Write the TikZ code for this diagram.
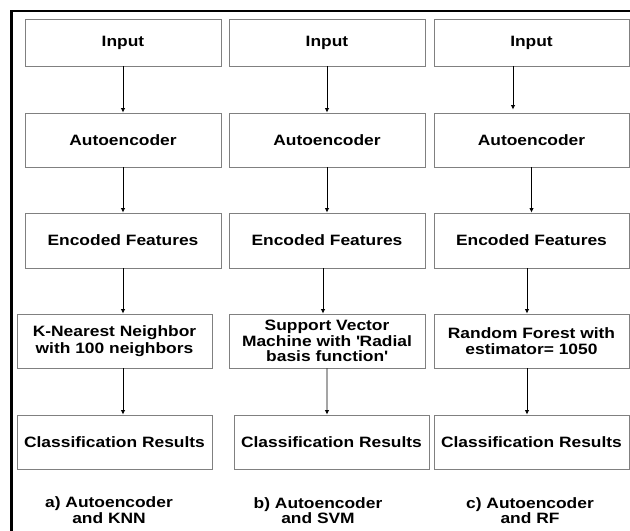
\documentclass[tikz,border=0pt]{standalone}
\usepackage{fontspec}
\setmainfont{Liberation Sans}[FakeStretch=1.16]
\usetikzlibrary{arrows.meta}
\begin{document}
\begin{tikzpicture}[x=1bp,y=-1bp,
  box/.style={draw=black!50,line width=0.9bp,inner sep=0pt,align=center,
    font=\fontsize{15bp}{16.5bp}\selectfont\bfseries},
  arr/.style={-{Latex[length=4.5bp,width=4.5bp]},line width=0.8bp,black},
  capt/.style={align=center,inner sep=0pt,font=\fontsize{15bp}{15.5bp}\selectfont\bfseries}]
\useasboundingbox (0,0) rectangle (630,531);
\draw[line width=2.6bp] (11.5,531) -- (11.5,11) -- (630,11);
% column a
\node[box,minimum width=196bp,minimum height=47bp] (a1) at (123,42.5) {Input};
\node[box,minimum width=196bp,minimum height=54bp] (a2) at (123,140) {Autoencoder};
\node[box,minimum width=196bp,minimum height=55bp] (a3) at (123,240.5) {Encoded Features};
\node[box,minimum width=195bp,minimum height=54bp] (a4) at (114.5,341) {K-Nearest Neighbor\\with 100 neighbors};
\node[box,minimum width=195bp,minimum height=54bp] (a5) at (114.5,442) {Classification Results};
% column b
\node[box,minimum width=196bp,minimum height=47bp] (b1) at (327,42.5) {Input};
\node[box,minimum width=196bp,minimum height=54bp] (b2) at (327,140) {Autoencoder};
\node[box,minimum width=196bp,minimum height=55bp] (b3) at (327,240.5) {Encoded Features};
\node[box,minimum width=196bp,minimum height=54bp,font=\fontsize{15bp}{15.5bp}\selectfont\bfseries] (b4) at (327,341) {Support Vector\\Machine with \textquotesingle Radial\\basis function\textquotesingle};
\node[box,minimum width=195bp,minimum height=54bp] (b5) at (331.5,442) {Classification Results};
% column c
\node[box,minimum width=195bp,minimum height=47bp] (c1) at (531.5,42.5) {Input};
\node[box,minimum width=195bp,minimum height=54bp] (c2) at (531.5,140) {Autoencoder};
\node[box,minimum width=195bp,minimum height=55bp] (c3) at (531.5,240.5) {Encoded Features};
\node[box,minimum width=195bp,minimum height=54bp] (c4) at (531.5,341) {Random Forest with\\estimator= 1050};
\node[box,minimum width=195bp,minimum height=54bp] (c5) at (531.5,442) {Classification Results};
% arrows a
\draw[arr] (a1.south) -- (a2.north);
\draw[arr] (a2.south) -- (a3.north);
\draw[arr] ([xshift=8.5bp]a4.north |- a3.south) -- ([xshift=8.5bp]a4.north);
\draw[arr] ([xshift=8.5bp]a4.south) -- ([xshift=8.5bp]a5.north);
% arrows b
\draw[arr] (b1.south) -- (b2.north);
\draw[arr] (b2.south) -- (b3.north);
\draw[arr] ([xshift=-4bp]b3.south) -- ([xshift=-4bp]b4.north);
\draw[arr] (b4.south) -- ([xshift=-4.5bp]b5.north);
% arrows c
\draw[arr] ([xshift=-18.5bp]c1.south) -- ([xshift=-18.5bp,yshift=3bp]c2.north);
\draw[arr] (c2.south) -- (c3.north);
\draw[arr] ([xshift=-4.5bp]c3.south) -- ([xshift=-4.5bp]c4.north);
\draw[arr] ([xshift=-4.5bp]c4.south) -- ([xshift=-4.5bp]c5.north);
% captions
\node[capt] (la) at (109,510) {a) Autoencoder\\and KNN};
\node[capt] (lb) at (318,510.5) {b) Autoencoder\\and SVM};
\node[capt] (lc) at (530,510.5) {c) Autoencoder\\and RF};
\end{tikzpicture}
\end{document}
